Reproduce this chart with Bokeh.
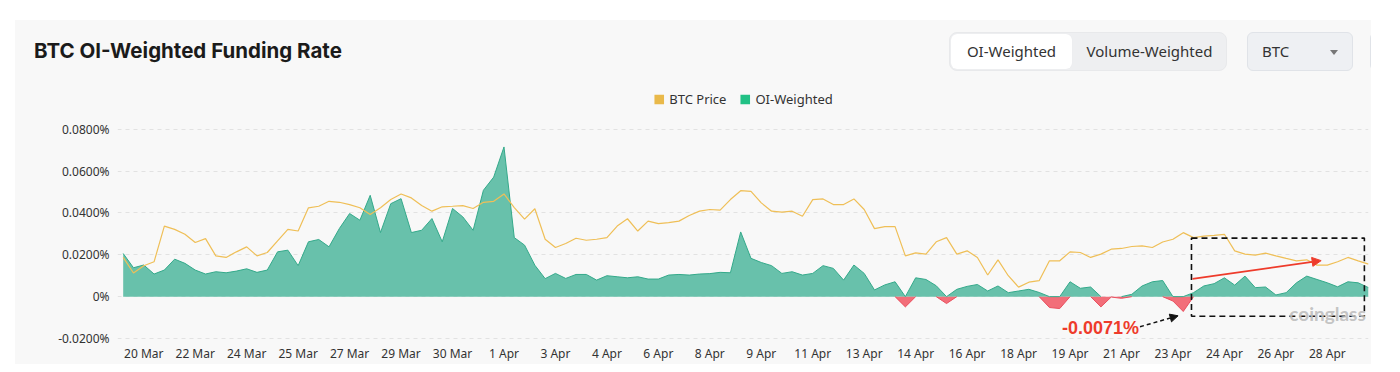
import numpy as np
from bokeh.plotting import figure
from bokeh.models import (Range1d, FixedTicker, CustomJSTickFormatter, Legend, LegendItem,
                          BoxAnnotation, Arrow, NormalHead, Label, Div)
from bokeh.layouts import column
from bokeh.embed import file_html
from bokeh.resources import INLINE

# ---------------- data (8-hour funding intervals, 20 Mar 00:00 -> 29 Apr 08:00) ----------------
funding_rate = [
    0.0206, 0.0138, 0.0151, 0.0108, 0.0127, 0.0179, 0.0159, 0.0127, 0.0108, 0.0119,
    0.0114, 0.0122, 0.0133, 0.0116, 0.0127, 0.0214, 0.0222, 0.0148, 0.0262, 0.0273,
    0.0238, 0.0325, 0.0397, 0.0365, 0.0484, 0.0306, 0.0444, 0.0468, 0.0306, 0.0317,
    0.0373, 0.0262, 0.0421, 0.0381, 0.0317, 0.0508, 0.0571, 0.0715, 0.0282, 0.0246,
    0.0150, 0.0086, 0.0111, 0.0087, 0.0106, 0.0106, 0.0079, 0.0100, 0.0095, 0.0090,
    0.0095, 0.0084, 0.0084, 0.0103, 0.0106, 0.0103, 0.0108, 0.0110, 0.0116, 0.0114,
    0.0309, 0.0183, 0.0163, 0.0148, 0.0111, 0.0119, 0.0103, 0.0111, 0.0148, 0.0135,
    0.0079, 0.0151, 0.0111, 0.0032, 0.0056, 0.0071, -0.0049, 0.0090, 0.0082, 0.0052,
    -0.0033, 0.0035, 0.0049, 0.0058, 0.0027, 0.0051, 0.0019, 0.0027, 0.0035, 0.0020,
    -0.0052, -0.0057, 0.0071, 0.0040, 0.0046, -0.0049, -0.0002, -0.0008, 0.0011, 0.0051,
    0.0071, 0.0077, -0.0021, -0.0071, 0.0019, 0.0051, 0.0062, 0.0090, 0.0055, 0.0098,
    0.0043, 0.0046, 0.0008, 0.0019, 0.0066, 0.0098, 0.0082, 0.0066, 0.0047, 0.0071,
    0.0066, 0.0043,
]
btc_price = [
    63390, 61500, 62380, 62860, 67200, 66800, 66200, 65200, 65680, 63580,
    63390, 64070, 64670, 63580, 63990, 65390, 66800, 66600, 69420, 69610,
    70210, 70090, 69810, 69420, 68610, 69420, 70420, 71100, 70620, 69690,
    69010, 69540, 69610, 69690, 69330, 70090, 70210, 71100, 69450, 68050,
    69300, 65600, 64600, 65080, 65720, 65480, 65600, 65800, 67200, 68090,
    66600, 67800, 67490, 67610, 67800, 68490, 69010, 69210, 69130, 70420,
    71500, 71420, 70020, 69010, 68890, 69010, 68400, 70420, 70500, 69810,
    69810, 70500, 69210, 66890, 67130, 67130, 63580, 63950, 63790, 65290,
    65800, 63790, 64190, 63390, 61260, 63100, 61170, 59780, 60380, 60570,
    62980, 62980, 64070, 63990, 63390, 63790, 64390, 64480, 64720, 64790,
    64600, 65270, 65600, 66400, 65800, 65990, 66080, 66200, 64190, 63790,
    63670, 63910, 63580, 63270, 62980, 63100, 62460, 62460, 62860, 63390,
    62980, 62580,
]
tick_index = list(range(2, 118, 5))
tick_labels = ["20 Mar", "22 Mar", "24 Mar", "25 Mar", "27 Mar", "29 Mar", "30 Mar", "1 Apr",
               "3 Apr", "4 Apr", "6 Apr", "8 Apr", "9 Apr", "11 Apr", "13 Apr", "14 Apr",
               "16 Apr", "18 Apr", "19 Apr", "21 Apr", "23 Apr", "24 Apr", "26 Apr", "28 Apr"]
y_ticks = [-0.02, 0.0, 0.02, 0.04, 0.06, 0.08]
annot_value = "-0.0071%"
title_text = "BTC OI-Weighted Funding Rate"
toggle_labels = ["OI-Weighted", "Volume-Weighted"]
coin_label = "BTC"

# ---------------- styling constants ----------------
CARD = "#f8f8f8"
GREEN_FILL = "#68c1ab"
GREEN_LINE = "#34a98a"
RED_FILL = "#f26e79"
RED_LINE = "#e9505f"
GOLD = "#efbf57"
GUTTER_L = 15
GUTTER_T = 20
W = GUTTER_L + 1356

# ---------------- header (HTML) ----------------
header_html = f"""
<div style="position:relative;width:{W}px;height:{GUTTER_T + 65}px;background:#ffffff;overflow:hidden;
            font-family:'Noto Sans',sans-serif;color:#333;">
 <div style="position:absolute;left:{GUTTER_L}px;top:{GUTTER_T}px;width:1356px;height:65px;
             background:{CARD};overflow:hidden;">
  <div style="position:absolute;left:19px;top:16px;height:30px;line-height:30px;
              font-family:Inter,sans-serif;font-weight:700;font-size:20.5px;color:#1b1b1b;
              white-space:nowrap;">{title_text}</div>
  <div style="position:absolute;left:934px;top:12px;width:278px;height:39px;box-sizing:border-box;
              background:#eeeff1;border:1px solid #e8e9eb;border-radius:8px;"></div>
  <div style="position:absolute;left:936px;top:14px;width:121px;height:35px;background:#fff;
              border-radius:6px;box-shadow:0 0 1px rgba(0,0,0,0.06);"></div>
  <div style="position:absolute;left:936px;top:14px;width:121px;height:35px;line-height:35px;
              text-align:center;font-size:15px;white-space:nowrap;">{toggle_labels[0]}</div>
  <div style="position:absolute;left:1057px;top:14px;width:155px;height:35px;line-height:35px;
              text-align:center;font-size:15px;white-space:nowrap;">{toggle_labels[1]}</div>
  <div style="position:absolute;left:1232px;top:12px;width:106px;height:39px;box-sizing:border-box;
              background:#eef0f3;border:1px solid #e0e3e8;border-radius:6px;"></div>
  <div style="position:absolute;left:1247px;top:13px;height:37px;line-height:37px;
              font-size:15px;">{coin_label}</div>
  <div style="position:absolute;left:1315px;top:30px;width:0;height:0;
              border-left:4px solid transparent;border-right:4px solid transparent;
              border-top:5px solid #777;"></div>
  <div style="position:absolute;left:1355px;top:12px;width:60px;height:39px;box-sizing:border-box;
              background:#f2f3f5;border:1px solid #e0e3e8;border-radius:6px;"></div>
 </div>
</div>
"""
hdr = Div(text=header_html, width=W, height=GUTTER_T + 65, margin=0)

# ---------------- chart ----------------
n = len(funding_rate)
xs = np.arange(n)
v = np.array(funding_rate)
p = figure(width=W, height=279, toolbar_location=None, output_backend="svg",
           x_range=Range1d(-0.553, n - 1), y_range=Range1d(-0.02095, 0.100853),
           min_border_left=GUTTER_L + 102, min_border_right=3, min_border_top=0,
           min_border_bottom=22,
           outline_line_color=None, background_fill_color=CARD, border_fill_alpha=0,
           margin=0,
           styles={"background": f"linear-gradient(to right, #ffffff {GUTTER_L}px, {CARD} {GUTTER_L}px)"})
p.extra_y_ranges = {"price": Range1d(53300, 84276)}

pos = np.maximum(v, 0)
neg = np.minimum(v, 0)
gmask = (v > 0) | np.roll(v > 0, 1) | np.roll(v > 0, -1)
rmask = (v < 0) | np.roll(v < 0, 1) | np.roll(v < 0, -1)
gline = np.where(gmask, pos, np.nan)
rline = np.where(rmask, neg, np.nan)

p.varea(x=xs, y1=np.zeros(n), y2=pos, fill_color=GREEN_FILL)
p.varea(x=xs, y1=np.zeros(n), y2=neg, fill_color=RED_FILL)
p.line(xs, gline, line_color=GREEN_LINE, line_width=1)
p.line(xs, rline, line_color=RED_LINE, line_width=1)
p.line(xs, btc_price, y_range_name="price", line_color=GOLD, line_width=1.2)

# legend proxies (no data drawn)
nan = [np.nan]
r_price = p.quad(left=nan, right=nan, top=nan, bottom=nan, fill_color="#e9b94a", line_color=None)
r_oi = p.quad(left=nan, right=nan, top=nan, bottom=nan, fill_color="#21c185", line_color=None)
legend = Legend(items=[LegendItem(label="BTC Price", renderers=[r_price]),
                       LegendItem(label="OI-Weighted", renderers=[r_oi])],
                orientation="horizontal", location="top_center",
                glyph_width=12, glyph_height=12, label_standoff=5, spacing=12,
                label_text_font="Noto Sans", label_text_font_size="13px",
                label_text_color="#333333", label_height=14,
                background_fill_alpha=0, border_line_color=None, padding=0, margin=5)
p.add_layout(legend)

# axes
p.xaxis.ticker = FixedTicker(ticks=tick_index)
p.xaxis.major_label_overrides = {i: t for i, t in zip(tick_index, tick_labels)}
p.yaxis.ticker = FixedTicker(ticks=y_ticks)
p.yaxis.formatter = CustomJSTickFormatter(code="return Math.abs(tick) < 1e-12 ? '0%' : tick.toFixed(4) + '%';")
for ax in (p.xaxis, p.yaxis):
    ax.axis_line_color = None
    ax.major_tick_line_color = None
    ax.minor_tick_line_color = None
    ax.major_tick_out = 0
    ax.major_tick_in = 0
    ax.minor_tick_out = 0
    ax.minor_tick_in = 0
    ax.major_label_text_font = "Noto Sans"
    ax.major_label_text_font_size = "12px"
    ax.major_label_text_color = "#333333"
p.yaxis.major_label_standoff = 8
p.xaxis.major_label_standoff = 4
p.xgrid.visible = False
p.ygrid.grid_line_color = "#e2e2e2"
p.ygrid.grid_line_dash = "4 4"

# annotations
BOX = dict(left=103.8, right=120.6, top=0.02796, bottom=-0.00934)
p.add_layout(BoxAnnotation(**BOX, fill_alpha=0, line_color="#111111", line_alpha=1,
                           line_width=1.6, line_dash="6 4"))
p.add_layout(Arrow(end=NormalHead(size=9, fill_color="#ee3b2b", line_color="#ee3b2b"),
                   x_start=103.9, y_start=0.00853, x_end=116.4, y_end=0.0172,
                   line_color="#ee3b2b", line_width=1.8))
p.add_layout(Arrow(end=NormalHead(size=8, fill_color="#111111", line_color="#111111"),
                   x_start=98.8, y_start=-0.01436, x_end=102.5, y_end=-0.00915,
                   line_color="#111111", line_width=1.5, line_dash="4 3"))
p.add_layout(Label(x=98.7, y=-0.0152, text=annot_value, text_align="right",
                   text_baseline="middle", text_font="Liberation Sans", text_font_style="bold",
                   text_font_size="18px", text_color="#ee3b2b"))
p.add_layout(Label(x=113.3, y=-0.0081, text="coinglass", text_align="left",
                   text_baseline="middle", text_font="Lato", text_font_style="bold",
                   text_font_size="19px", text_color="#bdbdbd", text_alpha=0.9))

layout = column(hdr, p, spacing=0, margin=0)
open("out.html", "w").write(file_html(layout, INLINE))
